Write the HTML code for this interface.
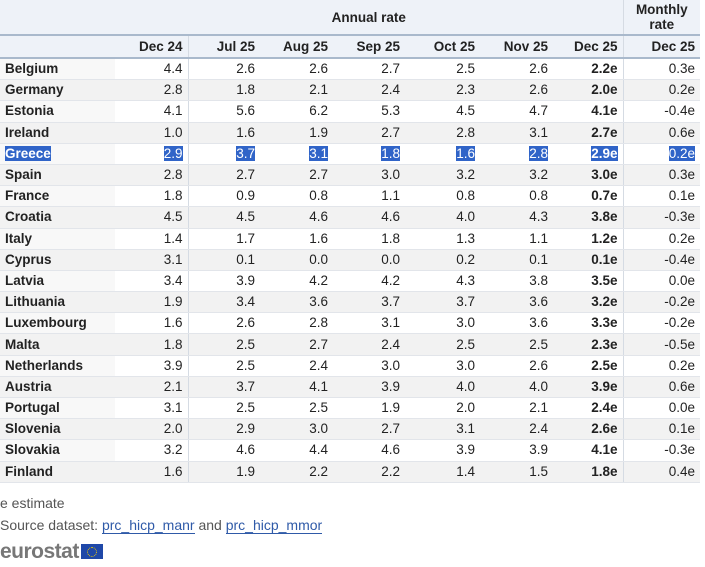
<!DOCTYPE html>
<html><head><style>
body{margin:0;background:#fff;font-family:"Liberation Sans",Arial,sans-serif;width:705px;height:567px;overflow:hidden;position:relative}
.t{position:absolute;left:0;top:0;width:700px;border-collapse:collapse;table-layout:fixed;font-size:13.5px;color:#222}
.t td,.t th{padding:0;text-align:right;white-space:nowrap;overflow:hidden}
.t td{height:20.2px;line-height:20px;padding-right:5px}
.hd th{background:#eef2f8;font-weight:bold}
.r1 th{height:34px;border-bottom:2px solid #a9b9cc}
.r2 th{height:21px;border-bottom:2px solid #a9b9cc;padding-right:5px}
td.c{text-align:left;font-weight:bold;padding-left:5px}
tr.g td{background:#f2f2f2}
tr:not(.g) td.c{background:#f8f8f8}
.b{font-weight:bold}
.sl{border-right:1px solid #d5dbe3}
tr.row td{border-bottom:1px solid #e2e5ea}
.s{background:#3064c8;color:#fff}
.f{position:absolute;left:0;font-size:14px;color:#555}
.f a{color:#2f5aa8;text-decoration:none;border-bottom:1px solid #2f5aa8}
</style></head><body>
<table class="t">
<colgroup><col style="width:115px"><col style="width:73px"><col style="width:72px"><col style="width:73px"><col style="width:72px"><col style="width:75px"><col style="width:73px"><col style="width:70px"><col style="width:77px"></colgroup>
<tr class="hd r1"><th></th><th colspan="7" class="sl" style="text-align:center">Annual rate</th><th style="text-align:center;line-height:15px">Monthly<br>rate</th></tr>
<tr class="hd r2"><th></th><th class="sl">Dec 24</th><th>Jul 25</th><th>Aug 25</th><th>Sep 25</th><th>Oct 25</th><th>Nov 25</th><th class="sl">Dec 25</th><th>Dec 25</th></tr>
<tr class="row"><td class="c">Belgium</td><td class="sl">4.4</td><td>2.6</td><td>2.6</td><td>2.7</td><td>2.5</td><td>2.6</td><td class="b sl">2.2e</td><td>0.3e</td></tr>
<tr class="row g"><td class="c">Germany</td><td class="sl">2.8</td><td>1.8</td><td>2.1</td><td>2.4</td><td>2.3</td><td>2.6</td><td class="b sl">2.0e</td><td>0.2e</td></tr>
<tr class="row"><td class="c">Estonia</td><td class="sl">4.1</td><td>5.6</td><td>6.2</td><td>5.3</td><td>4.5</td><td>4.7</td><td class="b sl">4.1e</td><td>-0.4e</td></tr>
<tr class="row g"><td class="c">Ireland</td><td class="sl">1.0</td><td>1.6</td><td>1.9</td><td>2.7</td><td>2.8</td><td>3.1</td><td class="b sl">2.7e</td><td>0.6e</td></tr>
<tr class="row"><td class="c"><span class="s">Greece</span></td><td class="sl"><span class="s">2.9</span></td><td><span class="s">3.7</span></td><td><span class="s">3.1</span></td><td><span class="s">1.8</span></td><td><span class="s">1.6</span></td><td><span class="s">2.8</span></td><td class="b sl"><span class="s">2.9e</span></td><td><span class="s">0.2e</span></td></tr>
<tr class="row g"><td class="c">Spain</td><td class="sl">2.8</td><td>2.7</td><td>2.7</td><td>3.0</td><td>3.2</td><td>3.2</td><td class="b sl">3.0e</td><td>0.3e</td></tr>
<tr class="row"><td class="c">France</td><td class="sl">1.8</td><td>0.9</td><td>0.8</td><td>1.1</td><td>0.8</td><td>0.8</td><td class="b sl">0.7e</td><td>0.1e</td></tr>
<tr class="row g"><td class="c">Croatia</td><td class="sl">4.5</td><td>4.5</td><td>4.6</td><td>4.6</td><td>4.0</td><td>4.3</td><td class="b sl">3.8e</td><td>-0.3e</td></tr>
<tr class="row"><td class="c">Italy</td><td class="sl">1.4</td><td>1.7</td><td>1.6</td><td>1.8</td><td>1.3</td><td>1.1</td><td class="b sl">1.2e</td><td>0.2e</td></tr>
<tr class="row g"><td class="c">Cyprus</td><td class="sl">3.1</td><td>0.1</td><td>0.0</td><td>0.0</td><td>0.2</td><td>0.1</td><td class="b sl">0.1e</td><td>-0.4e</td></tr>
<tr class="row"><td class="c">Latvia</td><td class="sl">3.4</td><td>3.9</td><td>4.2</td><td>4.2</td><td>4.3</td><td>3.8</td><td class="b sl">3.5e</td><td>0.0e</td></tr>
<tr class="row g"><td class="c">Lithuania</td><td class="sl">1.9</td><td>3.4</td><td>3.6</td><td>3.7</td><td>3.7</td><td>3.6</td><td class="b sl">3.2e</td><td>-0.2e</td></tr>
<tr class="row"><td class="c">Luxembourg</td><td class="sl">1.6</td><td>2.6</td><td>2.8</td><td>3.1</td><td>3.0</td><td>3.6</td><td class="b sl">3.3e</td><td>-0.2e</td></tr>
<tr class="row g"><td class="c">Malta</td><td class="sl">1.8</td><td>2.5</td><td>2.7</td><td>2.4</td><td>2.5</td><td>2.5</td><td class="b sl">2.3e</td><td>-0.5e</td></tr>
<tr class="row"><td class="c">Netherlands</td><td class="sl">3.9</td><td>2.5</td><td>2.4</td><td>3.0</td><td>3.0</td><td>2.6</td><td class="b sl">2.5e</td><td>0.2e</td></tr>
<tr class="row g"><td class="c">Austria</td><td class="sl">2.1</td><td>3.7</td><td>4.1</td><td>3.9</td><td>4.0</td><td>4.0</td><td class="b sl">3.9e</td><td>0.6e</td></tr>
<tr class="row"><td class="c">Portugal</td><td class="sl">3.1</td><td>2.5</td><td>2.5</td><td>1.9</td><td>2.0</td><td>2.1</td><td class="b sl">2.4e</td><td>0.0e</td></tr>
<tr class="row g"><td class="c">Slovenia</td><td class="sl">2.0</td><td>2.9</td><td>3.0</td><td>2.7</td><td>3.1</td><td>2.4</td><td class="b sl">2.6e</td><td>0.1e</td></tr>
<tr class="row"><td class="c">Slovakia</td><td class="sl">3.2</td><td>4.6</td><td>4.4</td><td>4.6</td><td>3.9</td><td>3.9</td><td class="b sl">4.1e</td><td>-0.3e</td></tr>
<tr class="row g"><td class="c">Finland</td><td class="sl">1.6</td><td>1.9</td><td>2.2</td><td>2.2</td><td>1.4</td><td>1.5</td><td class="b sl">1.8e</td><td>0.4e</td></tr>
</table>
<div class="f" style="top:495px">e estimate</div>
<div class="f" style="top:517px">Source dataset: <a>prc_hicp_manr</a> and <a>prc_hicp_mmor</a></div>
<div class="f" style="top:540px;font-size:21px;font-weight:bold;color:#777;letter-spacing:-0.5px">eurostat<span style="display:inline-block;width:22px;height:15px;background:#1f48a8;margin-left:2px;vertical-align:-1px;position:relative"><span style="position:absolute;left:6px;top:3px;width:8px;height:8px;border:1px dotted #f5d000;border-radius:50%"></span></span></div>
</body></html>
